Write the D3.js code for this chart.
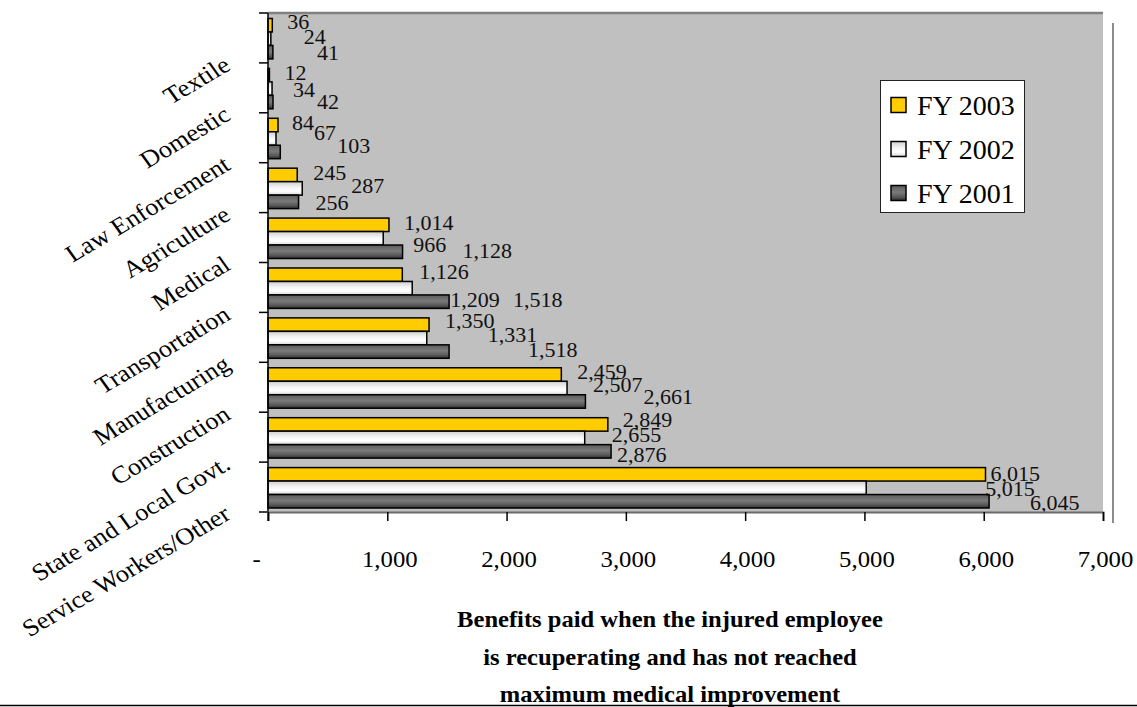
<!DOCTYPE html>
<html><head><meta charset="utf-8">
<script src="https://cdn.jsdelivr.net/npm/d3@7"></script>
<style>body{margin:0;background:#fff}svg{display:block}
text{font-family:"Times New Roman","Liberation Serif",Tinos,serif}</style>
</head><body>
<svg id="c" width="1137" height="707"></svg>
<script>
// ---------- data ----------
const categories = ["Textile","Domestic","Law Enforcement","Agriculture","Medical","Transportation","Manufacturing","Construction","State and Local Govt.","Service Workers/Other"];
const seriesNames = ["FY 2003","FY 2002","FY 2001"];
const fy2003 = [36,12,84,245,1014,1126,1350,2459,2849,6015];
const fy2002 = [24,34,67,287,966,1209,1331,2507,2655,5015];
const fy2001 = [41,42,103,256,1128,1518,1518,2661,2876,6045];
const xTicks = [0,1000,2000,3000,4000,5000,6000,7000];
const titleLines = ["Benefits paid when the injured employee","is recuperating and has not reached","maximum medical improvement"];

// label nudges (pixels, relative to bar end / band top), as placed in the original
const nudge2003 = [[15,9],[15,10],[14,10],[16,10],[15,10],[17,9],[16,9],[16,10],[15,8],[5,12]];
const nudge2002 = [[33,24],[21,27],[38,20],[49,23],[30,32],[38,37],[61,23],[26,23],[27,23],[119,27]];
const nudge2001 = [[44,40],[44,39],[57,33],[17,40],[60,38],[64,37],[79,38],[58,35],[6,43],[41,41]];

// ---------- layout ----------
const svg = d3.select("#c");
const L = 268, R = 1103, T = 13, B = 512;
const x = d3.scaleLinear().domain([0, 7000]).range([L, R]);
const y = d3.scaleBand().domain(categories).range([T, B]).padding(0);
const series = [fy2003, fy2002, fy2001];
const nudges = [nudge2003, nudge2002, nudge2001];

// gradients
const defs = svg.append("defs");
function grad(id, stops){
  const g = defs.append("linearGradient").attr("id", id).attr("x1",0).attr("y1",0).attr("x2",0).attr("y2",1);
  stops.forEach(s => g.append("stop").attr("offset", s[0]).attr("stop-color", s[1]));
}
grad("gY", [[0,"#ffcc00"],[1,"#ffcc00"]]);
grad("gW", [[0,"#cfcfcf"],[0.45,"#f6f6f6"],[0.7,"#ffffff"],[1,"#d8d8d8"]]);
grad("gD", [[0,"#5c5c5c"],[0.45,"#7a7a7a"],[0.75,"#5a5a5a"],[1,"#303030"]]);
const fills = ["url(#gY)","url(#gW)","url(#gD)"];

// plot background
svg.append("rect").attr("x", L).attr("y", T).attr("width", R - L).attr("height", B - T).attr("fill", "#c0c0c0");
svg.append("line").attr("x1", L).attr("x2", R).attr("y1", T).attr("y2", T).attr("stroke", "#808080").attr("stroke-width", 2.5);
svg.append("line").attr("x1", 1113).attr("x2", 1113).attr("y1", 23).attr("y2", 523).attr("stroke", "#8c8c8c").attr("stroke-width", 2);
svg.append("line").attr("x1", 0).attr("x2", 1137).attr("y1", 705.5).attr("y2", 705.5).attr("stroke", "#000").attr("stroke-width", 1.5);

// bars
const bw = y.bandwidth();
const barH = bw * 0.27, barOff = bw * 0.11;
series.forEach((vals, s) => {
  svg.append("g").selectAll("rect").data(vals).join("rect")
    .attr("x", x(0))
    .attr("y", (d, i) => y(categories[i]) + barOff + s * barH)
    .attr("width", d => x(d) - x(0))
    .attr("height", barH)
    .attr("fill", fills[s])
    .attr("stroke", "#000").attr("stroke-width", 1.5);
});

// data labels
series.forEach((vals, s) => {
  svg.append("g").selectAll("text").data(vals).join("text")
    .attr("transform", (d, i) => `translate(${x(d) + nudges[s][i][0]},${y(categories[i]) + nudges[s][i][1] + 7}) scale(1.1,1)`)
    .attr("font-size", 20).attr("fill", "#111")
    .text(d => d3.format(",")(d));
});

// y axis
svg.append("line").attr("x1", L).attr("x2", L).attr("y1", T).attr("y2", B + 9).attr("stroke", "#000").attr("stroke-width", 1.5);
const bounds = categories.map(c => y(c)).concat([B]);
svg.append("g").selectAll("line").data(bounds).join("line")
  .attr("x1", L - 9).attr("x2", L).attr("y1", d => d).attr("y2", d => d)
  .attr("stroke", "#000").attr("stroke-width", 1.5);
svg.append("g").selectAll("text").data(categories).join("text")
  .attr("transform", c => `translate(${232},${y(c) + bw + 6}) scale(1.1,1) rotate(-33)`)
  .attr("text-anchor", "end").attr("font-size", 24).attr("fill", "#000")
  .text(c => c);

// x axis
const xa = svg.append("g").attr("transform", `translate(0,${B})`)
  .call(d3.axisBottom(x).tickValues(xTicks).tickSize(9).tickFormat(d => d === 0 ? "-" : d3.format(",")(d)));
xa.attr("font-family", null);
xa.select(".domain").attr("stroke", "#6a6a6a").attr("stroke-width", 2);
xa.selectAll(".tick line").attr("stroke", "#000").attr("stroke-width", 1.5);
xa.selectAll(".tick text")
  .attr("y", 55).attr("dy", null).attr("x", 0)
  .attr("font-size", 22.5).attr("fill", "#000")
  .attr("transform", d => `translate(${d === 0 ? -12 : 2},0) scale(1.1,1)`);

// axis title
svg.append("g").selectAll("text").data(titleLines).join("text")
  .attr("transform", (d, i) => `translate(670,${627 + i * 37.5}) scale(1.068,1)`)
  .attr("text-anchor", "middle").attr("font-weight", "bold")
  .attr("font-size", 23).attr("fill", "#000")
  .text(d => d);

// legend
const lg = svg.append("g");
lg.append("rect").attr("x", 880.5).attr("y", 80.5).attr("width", 144).attr("height", 132)
  .attr("fill", "#fff").attr("stroke", "#222").attr("stroke-width", 1);
seriesNames.forEach((n, s) => {
  const cy = 105 + s * 44;
  lg.append("rect").attr("x", 891).attr("y", cy - 7.5).attr("width", 15).attr("height", 15)
    .attr("fill", fills[s]).attr("stroke", "#000").attr("stroke-width", 1.5);
  lg.append("text").attr("x", 917).attr("y", cy + 10).attr("font-size", 28)
    .attr("fill", "#000").text(n);
});
</script>
</body></html>
